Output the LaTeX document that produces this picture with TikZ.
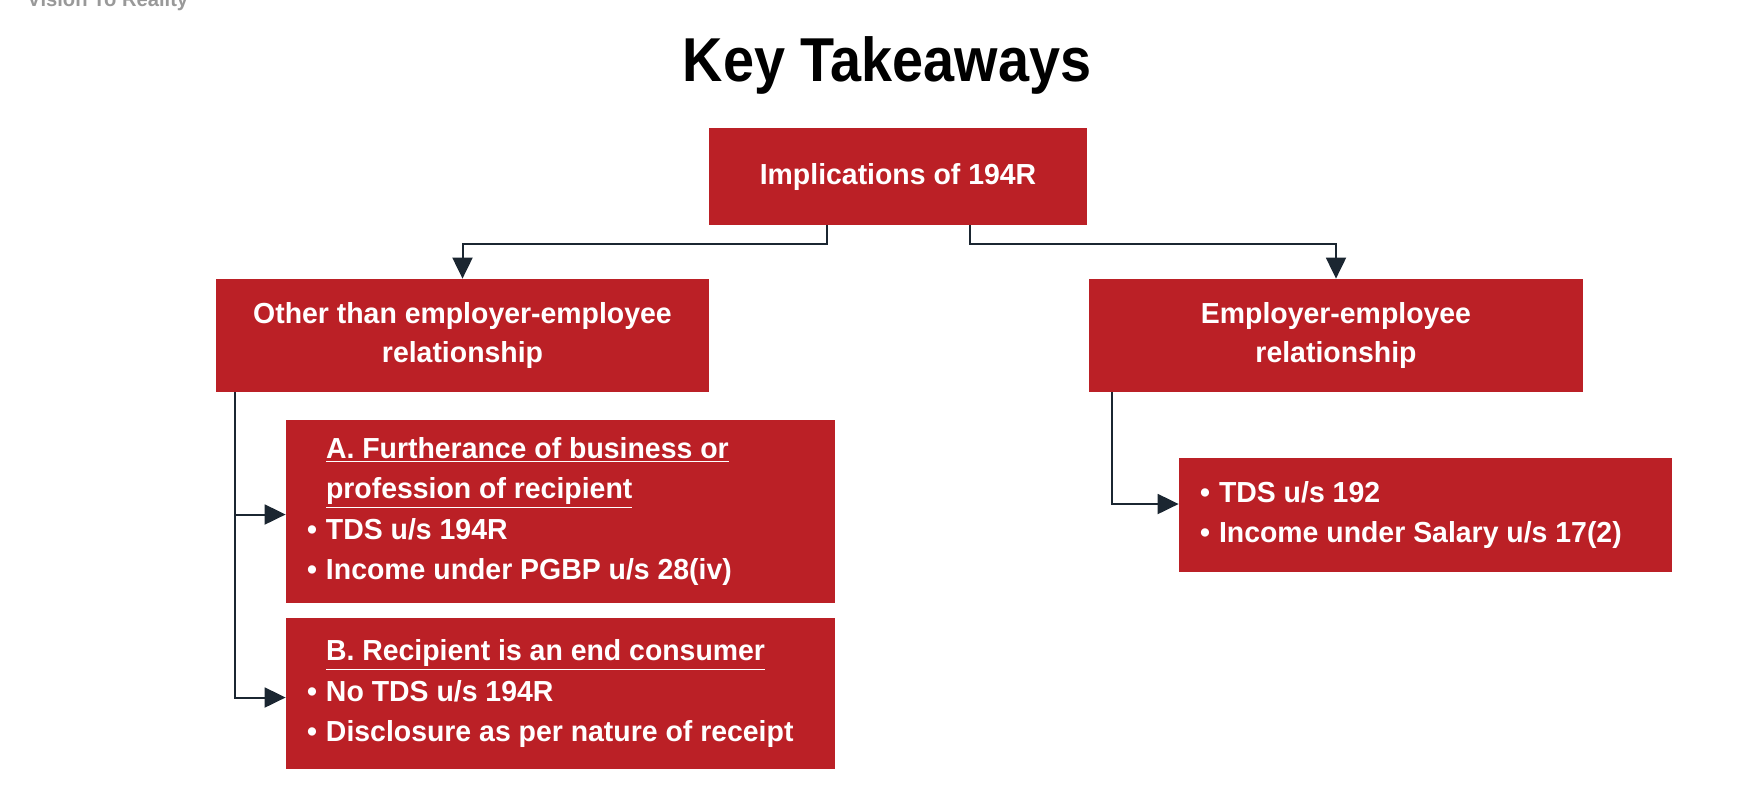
\documentclass[tikz,border=0pt]{standalone}
\usepackage{fontspec}
\usepackage{xcolor}
\setmainfont[FakeStretch=0.98]{Liberation Sans}
\newfontfamily\titlefont[FakeStretch=0.9]{Liberation Sans}
\usetikzlibrary{arrows.meta}
\definecolor{boxred}{RGB}{187,32,38}
\definecolor{linenavy}{RGB}{27,38,49}
\newcommand{\itm}{\makebox[9.5pt][l]{\textbullet}}
\newcommand{\hd}[1]{\hspace*{9.5pt}\underline{#1}}

\begin{document}
\begin{tikzpicture}[x=0.5pt,y=-0.5pt,
  redbox/.style={fill=boxred,text=white,font=\bfseries\fontsize{14.5}{19.5}\selectfont,inner sep=0pt,align=center},
  listbox/.style={redbox,align=flush left,inner xsep=10.5pt,font=\bfseries\fontsize{14.5}{20.3}\selectfont},
  conn/.style={draw=linenavy,line width=1pt,-{Triangle[length=10.5pt,width=10pt]}}]
  \useasboundingbox (0,0) rectangle (1745,811);
  \fill[white] (0,0) rectangle (1745,811);
  % Header
  \node[anchor=base west,text=gray!80,font=\bfseries\fontsize{10.3}{12}\selectfont,inner sep=0pt] (brand) at (27,6) {Vision To Reality};
  \node[anchor=base,font=\titlefont\bfseries\fontsize{31}{36}\selectfont,inner sep=0pt] (title) at (887,81) {Key Takeaways};
  % Boxes
  \node[redbox,minimum width=189pt,minimum height=48.5pt] (top) at (898,176.5) {Implications of 194R};
  \node[redbox,minimum width=246.5pt,minimum height=56.5pt] (left) at (462.5,335.5) {Other than employer-employee\\relationship};
  \node[redbox,minimum width=247pt,minimum height=56.5pt] (right) at (1336,335.5) {Employer-employee\\relationship};
  \node[listbox,text width=253.5pt,minimum height=91.5pt] (boxA) at (560.5,511.5)
    {\hd{A. Furtherance of business or}\\\hd{profession of recipient}\\\itm TDS u/s 194R\\\itm Income under PGBP u/s 28(iv)};
  \node[listbox,text width=253.5pt,minimum height=75.5pt] (boxB) at (560.5,693.5)
    {\hd{B. Recipient is an end consumer}\\\itm No TDS u/s 194R\\\itm Disclosure as per nature of receipt};
  \node[listbox,text width=225.5pt,minimum height=57pt] (boxC) at (1425.5,515)
    {\itm TDS u/s 192\\\itm Income under Salary u/s 17(2)};
  % Connectors
  \draw[conn] ([xshift=-35.5pt]top.south) -- ++(0,19) -| (left.north);
  \draw[conn] ([xshift=36pt]top.south) -- ++(0,19) -| (right.north);
  \draw[conn] ([xshift=-113.75pt]left.south) |- ([yshift=-1.5pt]boxA.west);
  \draw[conn] ([xshift=-113.75pt]left.south) |- ([yshift=-2pt]boxB.west);
  \draw[conn] ([xshift=-112pt]right.south) |- ([yshift=5.5pt]boxC.west);
\end{tikzpicture}
\end{document}
